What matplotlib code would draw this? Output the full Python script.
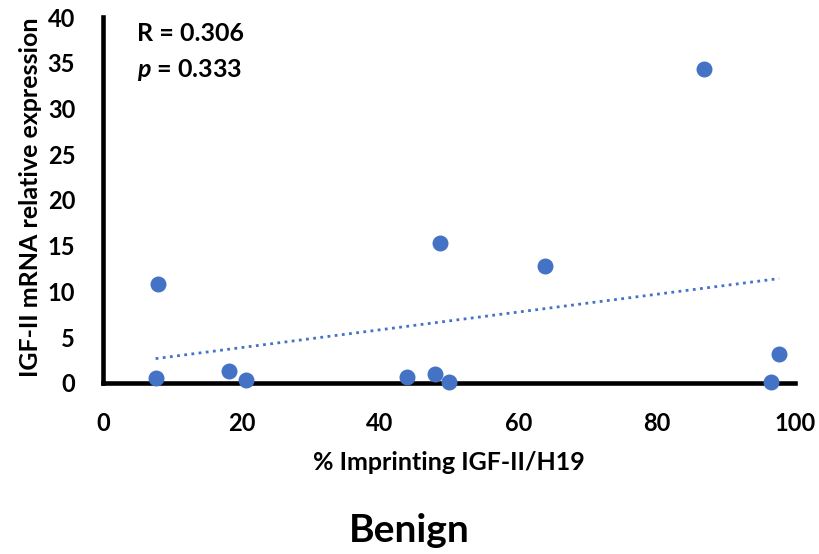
import numpy as np
import matplotlib.pyplot as plt

plt.rcParams['font.family'] = ['Lato', 'DejaVu Sans']
plt.rcParams['mathtext.fontset'] = 'custom'
plt.rcParams['mathtext.bfit'] = 'Lato:italic:bold'
plt.rcParams['mathtext.it'] = 'Lato:italic:bold'

# % imprinting vs IGF-II expression, benign samples
imprinting = [7.6, 7.9, 18.2, 20.7, 43.9, 48.0, 48.7, 50.0, 63.8, 86.9, 96.5, 97.7]
expression = [0.5, 10.8, 1.35, 0.3, 0.7, 0.95, 15.3, 0.1, 12.8, 34.3, 0.1, 3.2]

x_ticks = [0, 20, 40, 60, 80, 100]
y_ticks = [0, 5, 10, 15, 20, 25, 30, 35, 40]

blue = "#4472C4"

fig = plt.figure(figsize=(8.19, 5.54), dpi=100)
ax = fig.add_axes([0.1258, 0.3087, 0.8449, 0.6606])

ax.scatter(imprinting, expression, s=110, color=blue, zorder=3, clip_on=False)

# linear trendline
slope, intercept = np.polyfit(imprinting, expression, 1)
xs = np.array([min(imprinting), max(imprinting)])
ax.plot(xs, slope * xs + intercept, color=blue, linewidth=2, linestyle=(0, (1, 1.6)))

ax.set_xlim(0, 100)
ax.set_ylim(0, 40)
ax.set_xticks(x_ticks)
ax.set_yticks(y_ticks)
ax.tick_params(length=0, labelsize=17)
ax.tick_params(axis="x", pad=21)
ax.tick_params(axis="y", pad=20)
for lbl in ax.get_xticklabels() + ax.get_yticklabels():
    lbl.set_fontweight("bold")

for side in ["top", "right"]:
    ax.spines[side].set_visible(False)
for side in ["left", "bottom"]:
    ax.spines[side].set_linewidth(3.3)

ax.set_xlabel("% Imprinting IGF-II/H19", fontsize=18, fontweight="bold")
ax.set_ylabel("IGF-II mRNA relative expression", fontsize=18, fontweight="bold")
ax.xaxis.label.set_va("center")
ax.xaxis.set_label_coords(0.5, -0.2186)
ax.yaxis.label.set_va("center")
ax.yaxis.set_label_coords(-0.1055, 0.507)

ax.text(0.049, 0.9536, "R = 0.306", transform=ax.transAxes, fontsize=18,
        fontweight="bold", va="center")
ax.text(0.049, 0.855, r"$p$ = 0.333", transform=ax.transAxes, fontsize=18,
        fontweight="bold", va="center")

fig.text(0.5, 0.0433, "Benign", ha="center", va="center", fontsize=28, fontweight="bold")

fig.savefig("out.png", dpi=100)
